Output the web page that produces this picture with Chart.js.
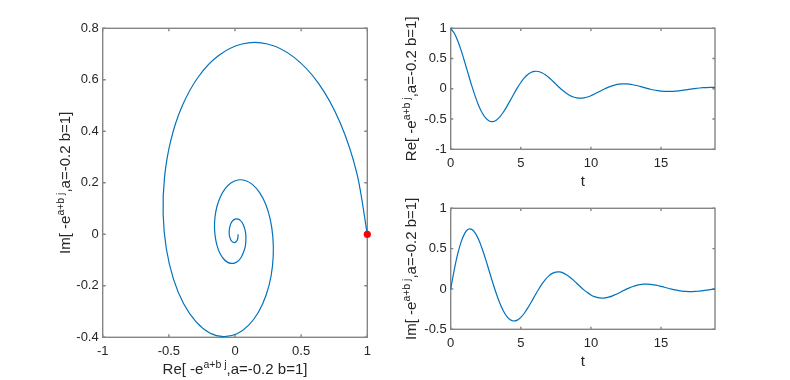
<!DOCTYPE html>
<html>
<head>
<meta charset="utf-8">
<script src="https://cdn.jsdelivr.net/npm/chart.js@4.4.1/dist/chart.umd.min.js"></script>
<style>
  html, body { margin: 0; padding: 0; background: #ffffff; }
  #wrap { position: relative; width: 790px; height: 380px; overflow: hidden; background: #fff; }
  canvas { position: absolute; }
</style>
</head>
<body>
<div id="wrap">
  <canvas id="cSpiral" width="400" height="380" style="left:0;top:0"></canvas>
  <canvas id="cRe" width="390" height="190" style="left:400px;top:0"></canvas>
  <canvas id="cIm" width="390" height="190" style="left:400px;top:190px"></canvas>
</div>
<script>
// ---- data ----
const tValues = [0,0.25,0.5,0.75,1,1.25,1.5,1.75,2,2.25,2.5,2.75,3,3.25,3.5,3.75,4,4.25,4.5,4.75,
  5,5.25,5.5,5.75,6,6.25,6.5,6.75,7,7.25,7.5,7.75,8,8.25,8.5,8.75,9,9.25,9.5,9.75,
  10,10.25,10.5,10.75,11,11.25,11.5,11.75,12,12.25,12.5,12.75,13,13.25,13.5,13.75,14,14.25,14.5,14.75,
  15,15.25,15.5,15.75,16,16.25,16.5,16.75,17,17.25,17.5,17.75,18,18.25,18.5,18.75,18.85];

const reValues = [1.000,0.922,0.794,0.630,0.442,0.246,0.052,-0.126,-0.279,-0.401,
  -0.486,-0.533,-0.543,-0.519,-0.465,-0.388,-0.294,-0.191,-0.086,0.015,
  0.104,0.179,0.236,0.273,0.289,0.286,0.266,0.232,0.186,0.133,
  0.077,0.022,-0.029,-0.074,-0.110,-0.136,-0.151,-0.155,-0.149,-0.135,
  -0.114,-0.087,-0.058,-0.028,0.000,0.027,0.048,0.065,0.077,0.082,
  0.082,0.077,0.067,0.055,0.040,0.024,0.008,-0.007,-0.020,-0.030,
  -0.038,-0.042,-0.044,-0.043,-0.039,-0.033,-0.026,-0.018,-0.009,-0.001,
  0.007,0.013,0.018,0.021,0.023,0.023,0.023];

const imValues = [0.000,0.235,0.434,0.587,0.689,0.739,0.739,0.693,0.610,0.496,
  0.363,0.220,0.077,-0.056,-0.174,-0.270,-0.340,-0.383,-0.397,-0.386,
  -0.353,-0.301,-0.235,-0.161,-0.084,-0.010,0.059,0.117,0.162,0.193,
  0.209,0.211,0.200,0.177,0.146,0.109,0.068,0.027,-0.011,-0.045,
  -0.074,-0.095,-0.108,-0.113,-0.111,-0.102,-0.088,-0.069,-0.049,-0.027,
  -0.005,0.014,0.031,0.045,0.054,0.059,0.060,0.057,0.051,0.043,
  0.032,0.021,0.009,-0.002,-0.012,-0.020,-0.026,-0.030,-0.032,-0.032,
  -0.029,-0.026,-0.021,-0.015,-0.008,-0.002,0.000];

const spiralXTicks = [-1,-0.5,0,0.5,1];
const spiralXTickLabels = ['-1','-0.5','0','0.5','1'];
const spiralYTicks = [-0.4,-0.2,0,0.2,0.4,0.6,0.8];
const spiralYTickLabels = ['-0.4','-0.2','0','0.2','0.4','0.6','0.8'];
const timeTicks = [0,5,10,15];
const timeTickLabels = ['0','5','10','15'];
const reYTicks = [-1,-0.5,0,0.5,1];
const reYTickLabels = ['-1','-0.5','0','0.5','1'];
const imYTicks = [-0.5,0,0.5,1];
const imYTickLabels = ['-0.5','0','0.5','1'];

const reLabelParts = ['Re[ -e','a+b j',',a=-0.2 b=1]'];
const imLabelParts = ['Im[ -e','a+b j',',a=-0.2 b=1]'];
const tLabelParts = ['t'];

// ---- styling ----
const FAMILY = "'Liberation Sans', Arial, Helvetica, sans-serif";
const TEXT = '#262626';
const LINE = '#0072bd';
const FRAME = '#858585';
Chart.defaults.font.family = FAMILY;
Chart.defaults.color = TEXT;

function drawParts(ctx, parts, cx, by, rotate) {
  const mainFont = '15px ' + FAMILY;
  const supFont = '10.5px ' + FAMILY;
  const widths = parts.map((p, i) => { ctx.font = (i === 1) ? supFont : mainFont; return ctx.measureText(p).width; });
  const total = widths.reduce((a, b) => a + b, 0);
  ctx.save();
  ctx.translate(cx, by);
  if (rotate) ctx.rotate(-Math.PI / 2);
  ctx.fillStyle = TEXT;
  ctx.textAlign = 'left';
  ctx.textBaseline = 'alphabetic';
  let x = -total / 2;
  parts.forEach((p, i) => {
    ctx.font = (i === 1) ? supFont : mainFont;
    ctx.fillText(p, x, i === 1 ? -6 : 0);
    x += widths[i];
  });
  ctx.restore();
}

const matlabFrame = {
  id: 'matlabFrame',
  beforeDatasetsDraw(chart, args, opts) {
    const { ctx, chartArea: a, scales } = chart;
    ctx.save();
    ctx.strokeStyle = FRAME;
    ctx.lineWidth = 1.4;
    ctx.strokeRect(a.left, a.top, a.right - a.left, a.bottom - a.top);
    const L = opts.tickLength || 3;
    ctx.beginPath();
    scales.x.ticks.forEach(t => {
      const px = scales.x.getPixelForValue(t.value);
      ctx.moveTo(px, a.bottom); ctx.lineTo(px, a.bottom - L);
      ctx.moveTo(px, a.top); ctx.lineTo(px, a.top + L);
    });
    scales.y.ticks.forEach(t => {
      const py = scales.y.getPixelForValue(t.value);
      ctx.moveTo(a.left, py); ctx.lineTo(a.left + L, py);
      ctx.moveTo(a.right, py); ctx.lineTo(a.right - L, py);
    });
    ctx.stroke();
    ctx.restore();
  },
  afterDraw(chart, args, opts) {
    const { ctx, chartArea: a } = chart;
    if (opts.xParts) drawParts(ctx, opts.xParts, (a.left + a.right) / 2, a.bottom + 37, false);
    if (opts.yParts) drawParts(ctx, opts.yParts, opts.yBaseX, (a.top + a.bottom) / 2, true);
  }
};

function axis(min, max, ticks, labels, fitProp, fitVal, pad) {
  return {
    type: 'linear', min: min, max: max,
    afterBuildTicks: s => { s.ticks = ticks.map(v => ({ value: v })); },
    afterFit: s => { s[fitProp] = fitVal; },
    ticks: {
      autoSkip: false, maxRotation: 0, padding: pad, color: TEXT,
      font: { size: 13, family: FAMILY },
      callback: v => { const i = ticks.indexOf(v); return i >= 0 ? labels[i] : ''; }
    },
    grid: { display: false, drawTicks: false },
    border: { display: false }
  };
}

function toPoints(xs, ys) { return xs.map((x, i) => ({ x: x, y: ys[i] })); }

function makeChart(id, datasets, xAxis, yAxis, padding, frameOpts) {
  return new Chart(document.getElementById(id), {
    type: 'scatter',
    data: { datasets: datasets },
    options: {
      responsive: false, animation: false, devicePixelRatio: 1,
      layout: { padding: padding },
      scales: { x: xAxis, y: yAxis },
      plugins: { legend: { display: false }, tooltip: { enabled: false }, matlabFrame: frameOpts }
    },
    plugins: [matlabFrame]
  });
}

function lineSet(points) {
  return { data: points, showLine: true, borderColor: LINE, borderWidth: 1.2, pointRadius: 0,
           tension: 0.3, fill: false, clip: false };
}

// Spiral (left)
makeChart('cSpiral',
  [
    { data: [{ x: reValues[0], y: imValues[0] }], pointRadius: 3.6, backgroundColor: '#ff0000',
      borderWidth: 0, showLine: false, clip: false },
    lineSet(toPoints(reValues, imValues))
  ],
  axis(-1, 1, spiralXTicks, spiralXTickLabels, 'height', 42.7, 6.5),
  axis(-0.4, 0.8, spiralYTicks, spiralYTickLabels, 'width', 102.7, 4),
  { top: 28.3, right: 32.7, left: 0, bottom: 0 },
  { xParts: reLabelParts, yParts: imLabelParts, yBaseX: 69.5, tickLength: 3 }
);

// Re vs t (top right)
makeChart('cRe',
  [ lineSet(toPoints(tValues, reValues)) ],
  axis(0, 18.85, timeTicks, timeTickLabels, 'height', 40.7, 6.5),
  axis(-1, 1, reYTicks, reYTickLabels, 'width', 50.7, 4),
  { top: 28.3, right: 75, left: 0, bottom: 0 },
  { xParts: tLabelParts, yParts: reLabelParts, yBaseX: 16, tickLength: 2.6 }
);

// Im vs t (bottom right)
makeChart('cIm',
  [ lineSet(toPoints(tValues, imValues)) ],
  axis(0, 18.85, timeTicks, timeTickLabels, 'height', 50.7, 6.5),
  axis(-0.5, 1, imYTicks, imYTickLabels, 'width', 50.7, 4),
  { top: 18.3, right: 75, left: 0, bottom: 0 },
  { xParts: tLabelParts, yParts: imLabelParts, yBaseX: 16, tickLength: 2.6 }
);
</script>
</body>
</html>
